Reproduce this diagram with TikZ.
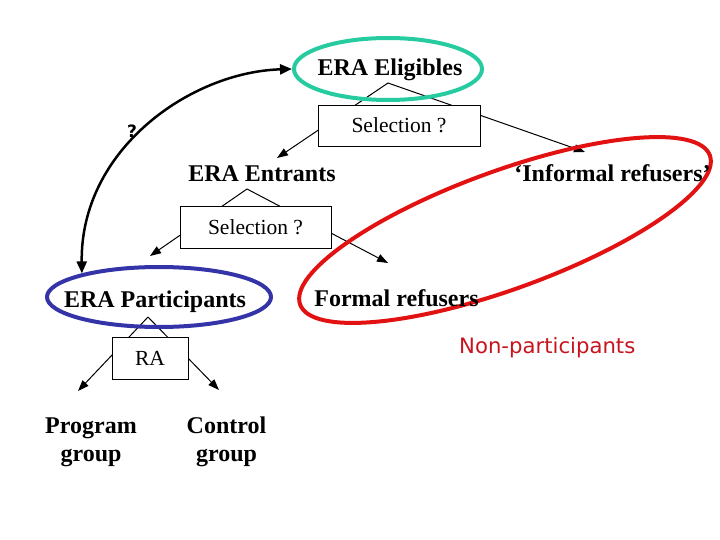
\documentclass[tikz,border=0pt]{standalone}
\usepackage{fontspec}
\setmainfont{Liberation Serif}
\newfontfamily\sansf{DejaVu Sans}
\usetikzlibrary{arrows.meta,shapes.geometric}
\definecolor{tealc}{RGB}{38,204,160}
\definecolor{bluec}{RGB}{52,52,168}
\definecolor{redc}{RGB}{226,18,18}
\definecolor{nonpc}{RGB}{200,20,30}
\begin{document}
\begin{tikzpicture}[x=1pt,y=-1pt,
  lbl/.style={font=\bfseries\fontsize{24}{27}\selectfont, inner sep=0pt, anchor=base},
  selbox/.style={draw, fill=white, line width=0.9pt, font=\fontsize{21.5}{24}\selectfont, inner sep=0pt},
  conn/.style={line width=1pt, -{Triangle[length=11pt,width=8pt]}},
  ring/.style={ellipse, line width=4pt, inner sep=0pt}]
\path[use as bounding box] (0,0) rectangle (720,540);
% branch points and arrow tips
\coordinate (a1) at (388,83);
\coordinate (t1L) at (277,158);
\coordinate (t1R) at (585,152);
\coordinate (a2) at (247,189);
\coordinate (t2L) at (150,256);
\coordinate (t2R) at (388,263);
\coordinate (a3) at (148,317);
\coordinate (t3L) at (78,391);
\coordinate (t3R) at (219,390);
% connectors
\draw[conn] (a1) -- (t1L);
\draw[conn] (a1) -- (t1R);
\draw[conn] (a2) -- (t2L);
\draw[conn] (a2) -- (t2R);
\draw[conn] (a3) -- (t3L);
\draw[conn] (a3) -- (t3R);
% boxes
\node[selbox, minimum width=162pt, minimum height=41pt] (sel1) at (399,125.5) {Selection ?};
\node[selbox, minimum width=151pt, minimum height=42pt] (sel2) at (255.5,227) {Selection ?};
\node[selbox, minimum width=76pt, minimum height=42pt] (ra) at (150,358) {RA};
% rings
\node[ring, draw=tealc, minimum width=188pt, minimum height=62pt] (eligE) at (388,69) {};
\node[ring, draw=bluec, minimum width=224pt, minimum height=60pt] (partE) at (159,297) {};
\node[ring, draw=redc, minimum width=436pt, minimum height=118pt, rotate=20] (nonpE) at (505,230) {};
% labels
\node[lbl] (elig) at (390,76) {ERA Eligibles};
\node[lbl] (entr) at (262,182) {ERA Entrants};
\node[lbl] (inf) at (612.5,182) {‘Informal refusers’};
\node[lbl] (part) at (155,307) {ERA Participants};
\node[lbl] (formal) at (396.5,306) {Formal refusers};
\node[font=\bfseries\fontsize{24}{28}\selectfont, inner sep=0pt, align=center] (prog) at (91,442) {Program\\group};
\node[font=\bfseries\fontsize{24}{28}\selectfont, inner sep=0pt, align=center] (ctrl) at (226.5,442) {Control\\group};
\node[font=\sansf\fontsize{21.2}{25}\selectfont, text=nonpc, inner sep=0pt, anchor=base west] (nonp) at (459,353) {Non-participants};
% curved double arrow
\draw[line width=2.5pt, {Triangle[length=12pt,width=10pt]}-{Triangle[length=12pt,width=10pt]}]
  (partE.163.7) .. controls (80,150) and (190,72) .. (eligE.west);
\node[font=\sansf\bfseries\fontsize{17}{20}\selectfont, inner sep=0pt] (q) at (132,131) {?};
\end{tikzpicture}
\end{document}
